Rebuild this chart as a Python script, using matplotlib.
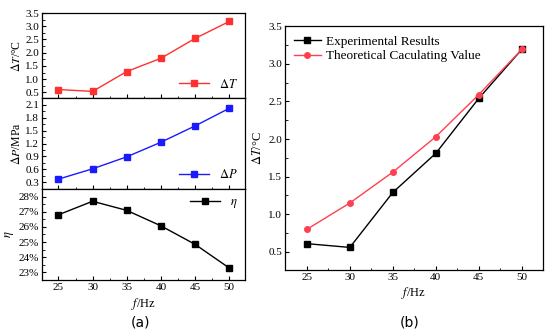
import matplotlib.pyplot as plt
from matplotlib.ticker import MultipleLocator, AutoMinorLocator

plt.rcParams['font.family'] = ['Liberation Serif', 'DejaVu Serif']
plt.rcParams['mathtext.fontset'] = 'stix'
plt.rcParams['xtick.direction'] = 'in'
plt.rcParams['ytick.direction'] = 'in'

freq = [25, 30, 35, 40, 45, 50]
delta_t = [0.61, 0.54, 1.29, 1.79, 2.54, 3.18]
delta_p = [0.37, 0.61, 0.89, 1.23, 1.61, 2.02]
eta = [26.8, 27.69, 27.09, 26.07, 24.85, 23.29]
exp_t = [0.61, 0.56, 1.29, 1.81, 2.54, 3.19]
theo_t = [0.80, 1.15, 1.56, 2.03, 2.59, 3.19]

fig = plt.figure(figsize=(5.5, 3.36), dpi=100)

ax1 = fig.add_axes([0.0764, 0.7083, 0.369, 0.253])
ax2 = fig.add_axes([0.0764, 0.4375, 0.369, 0.2708])
ax3 = fig.add_axes([0.0764, 0.1667, 0.369, 0.2708])
axb = fig.add_axes([0.518, 0.1964, 0.469, 0.726])

fs = 8

def style(ax):
    ax.set_xlim(22.6, 52.3)
    ax.xaxis.set_major_locator(MultipleLocator(5))
    ax.xaxis.set_minor_locator(MultipleLocator(2.5))
    ax.yaxis.set_minor_locator(AutoMinorLocator(2))
    ax.tick_params(which='major', length=3, width=0.8, labelsize=fs, pad=2)
    ax.tick_params(which='minor', length=1.8, width=0.6)
    for s in ax.spines.values():
        s.set_linewidth(0.9)

ax1.plot(freq, delta_t, color='#ff3030', marker='s', ms=4, lw=1, label=r'$\Delta T$')
ax1.set_ylim(0.29, 3.5)
ax1.yaxis.set_major_locator(MultipleLocator(0.5))
ax1.set_ylabel(r'$\Delta T$/°C', fontsize=8.5, labelpad=2)
ax1.legend(loc='lower right', frameon=False, fontsize=9, handlelength=2.4,
           borderaxespad=0.2)

ax2.plot(freq, delta_p, color='#1a1aff', marker='s', ms=4, lw=1, label=r'$\Delta P$')
ax2.set_ylim(0.14, 2.26)
ax2.yaxis.set_major_locator(MultipleLocator(0.3))
ax2.set_ylabel(r'$\Delta P$/MPa', fontsize=8.5, labelpad=2)
ax2.legend(loc='lower right', frameon=False, fontsize=9, handlelength=2.4,
           borderaxespad=0.2)

ax3.plot(freq, eta, color='black', marker='s', ms=4, lw=1, label=r'$\eta$')
ax3.set_ylim(22.5, 28.5)
ax3.yaxis.set_major_locator(MultipleLocator(1))
ax3.yaxis.set_major_formatter(lambda v, p: f'{v:.0f}%')
ax3.set_ylabel(r'$\eta$', fontsize=9, labelpad=2)
ax3.set_xlabel(r'$f$/Hz', fontsize=9, labelpad=3)
ax3.legend(loc='upper right', frameon=False, fontsize=9, handlelength=2.4,
           borderaxespad=0.2)

for ax in (ax1, ax2, ax3):
    style(ax)
for ax in (ax1, ax2):
    ax.tick_params(labelbottom=False)

axb.plot(freq, exp_t, color='black', marker='s', ms=4, lw=1,
         label='Experimental Results')
axb.plot(freq, theo_t, color='#ff4050', marker='o', ms=4, lw=1,
         label='Theoretical Caculating Value')
style(axb)
axb.set_xlim(22.45, 52.45)
axb.set_ylim(0.26, 3.5)
axb.yaxis.set_major_locator(MultipleLocator(0.5))
axb.set_ylabel(r'$\Delta T$/°C', fontsize=9, labelpad=3)
axb.set_xlabel(r'$f$/Hz', fontsize=9, labelpad=2)
axb.legend(loc='upper left', frameon=False, fontsize=9.5, handlelength=2.0,
           borderaxespad=0.3, labelspacing=0.2, handletextpad=0.4)

fig.text(0.255, 0.04, '(a)', ha='center', va='center', fontsize=10,
         family='DejaVu Sans')
fig.text(0.745, 0.04, '(b)', ha='center', va='center', fontsize=10,
         family='DejaVu Sans')

fig.savefig('out.png', dpi=100)
